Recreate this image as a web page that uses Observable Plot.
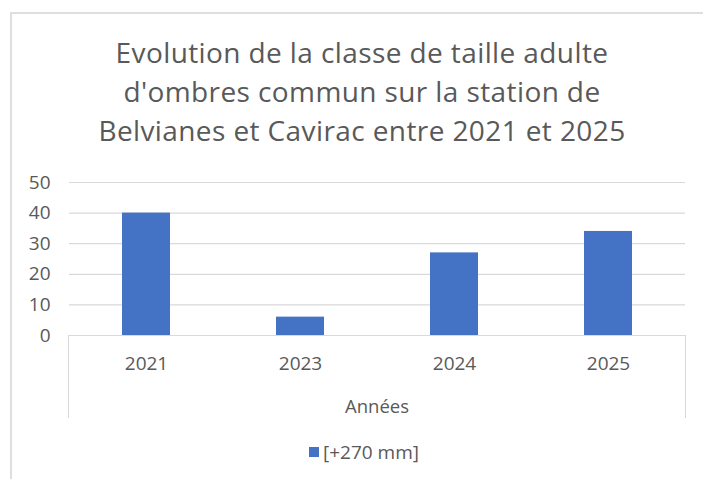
<!DOCTYPE html>
<html>
<head>
<meta charset="utf-8">
<script src="https://cdn.jsdelivr.net/npm/d3@7"></script>
<script src="https://cdn.jsdelivr.net/npm/@observablehq/plot@0.6"></script>
<style>
  html, body { margin: 0; padding: 0; background: #fff; width: 703px; height: 479px; overflow: hidden; position: relative; font-family: "Open Sans", sans-serif; color: #595959; }
  #frame { position: absolute; left: 10px; top: 12px; width: 800px; height: 600px; border-left: 2px solid #dedede; border-top: 2px solid #dedede; box-sizing: border-box; }
  #title { position: absolute; left: 10px; top: 33px; width: 704px; text-align: center; font-size: 28px; letter-spacing: 0.4px; line-height: 39px; color: #595959; }
  #chart { position: absolute; left: 0; top: 160px; }
  #xbox { position: absolute; left: 68px; top: 335px; width: 618px; height: 83px; border-left: 1px solid #d9d9d9; border-right: 1px solid #d9d9d9; box-sizing: border-box; }
  #xlabel { position: absolute; left: 69px; top: 394px; width: 616px; text-align: center; font-size: 18.5px; line-height: 24px; }
  #legend { position: absolute; left: 10px; top: 440px; width: 708px; display: flex; justify-content: center; align-items: center; font-size: 19px; line-height: 24px; }
  #legend .sw { width: 10px; height: 10px; background: #4472C4; margin-right: 4px; }
</style>
</head>
<body>
<div id="frame"></div>
<div id="title">Evolution de la classe de taille adulte<br>d'ombres commun sur la station de<br>Belvianes et Cavirac entre 2021 et 2025</div>
<div id="xbox"></div>
<div id="chart"></div>
<div id="xlabel">Années</div>
<div id="legend"><span class="sw"></span><span id="legtext"></span></div>
<script>
const years = ["2021", "2023", "2024", "2025"];
const values = [40, 6, 27, 34];
const yTicks = [0, 10, 20, 30, 40, 50];
const seriesName = "[+270 mm]";

const data = years.map((year, i) => ({year, value: values[i]}));

const chart = Plot.plot({
  width: 703,
  height: 262,
  marginTop: 22,
  marginBottom: 87,
  marginLeft: 69,
  marginRight: 18,
  style: {fontFamily: "'Open Sans', sans-serif", fontSize: "19px", color: "#595959", background: "transparent", overflow: "visible"},
  x: {domain: years, paddingInner: 0.69, paddingOuter: 0.345, label: null},
  y: {domain: [0, 50], ticks: yTicks, label: null},
  marks: [
    Plot.gridY(yTicks, {stroke: "#d9d9d9", strokeOpacity: 1, strokeWidth: 1.2}),
    Plot.axisY(yTicks, {tickSize: 0, tickPadding: 19, label: null, fill: "#595959"}),
    Plot.axisX({tickSize: 0, tickPadding: 21, label: null, fill: "#595959"}),
    Plot.barY(data, {x: "year", y: "value", fill: "#4472C4"}),
    Plot.ruleY([0], {stroke: "#d9d9d9", strokeWidth: 1.2})
  ]
});
document.getElementById("chart").appendChild(chart);
document.getElementById("legtext").textContent = seriesName;
</script>
</body>
</html>
